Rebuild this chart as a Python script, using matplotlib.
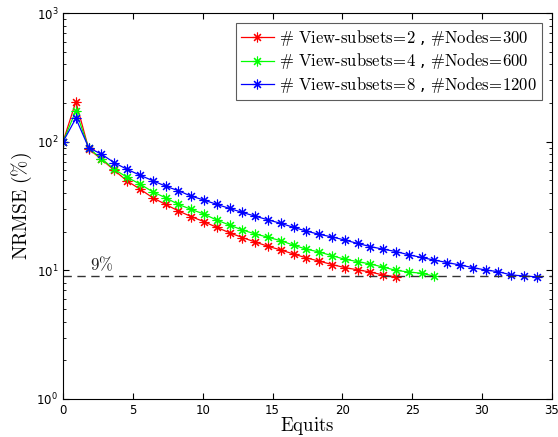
import matplotlib
matplotlib.use("Agg")
import matplotlib.pyplot as plt
import numpy as np

plt.rcParams['mathtext.fontset'] = 'cm'

# NRMSE (%) per iteration
red_vals = [100, 205, 88, 73, 60, 49.5, 42.9, 36.7, 32.6, 29.0, 26.2, 23.9, 21.6, 19.6,
            18.0, 16.6, 15.4, 14.4, 13.4, 12.5, 11.8, 11.1, 10.5, 10.1, 9.7, 9.2, 8.9]
green_vals = [100, 174, 89, 74, 61, 52.9, 46.9, 40.8, 36.7, 32.6, 29.8, 27.4, 24.6, 22.5,
              20.6, 19.2, 18.1, 17.0, 15.7, 14.6, 13.9, 13.0, 12.2, 11.7, 11.2, 10.6,
              10.0, 9.7, 9.5, 9.0]
blue_vals = [100, 152, 90, 80, 68.7, 61, 55, 49.8, 45.2, 41.6, 37.8, 35.2, 32.6, 30.3,
             28.2, 26.4, 24.7, 23.2, 21.6, 20.2, 19.05, 18.2, 17.2, 16.2, 15.3, 14.6,
             14.0, 13.2, 12.6, 12.0, 11.5, 11.0, 10.5, 10.06, 9.76, 9.2, 9.05, 8.9]
equit_step = 0.917   # spacing of iterations in equits
labels = [r'$\#$ $\mathrm{View\text{-}subsets\!=\!2}$ , $\#\mathrm{Nodes\!=\!300}$',
          r'$\#$ $\mathrm{View\text{-}subsets\!=\!4}$ , $\#\mathrm{Nodes\!=\!600}$',
          r'$\#$ $\mathrm{View\text{-}subsets\!=\!8}$ , $\#\mathrm{Nodes\!=\!1200}$']
colors = ['#ff0000', '#00ff00', '#0000ff']
threshold = 9

fig = plt.figure(figsize=(5.58, 4.37), dpi=100)
ax = fig.add_axes([0.113, 0.087, 0.876, 0.883])

for vals, lab, c in zip([red_vals, green_vals, blue_vals], labels, colors):
    x = np.arange(len(vals)) * equit_step
    ax.plot(x, vals, color=c, marker=(8, 2, 0), markersize=7, linewidth=0.9,
            markeredgewidth=0.8, label=lab)

ax.axhline(threshold, color='#333333', linestyle=(0, (6, 4)), linewidth=1.0)
ax.text(1.9, 9.3, r'$9\%$', fontsize=12, ha='left', va='bottom', color='#222222')

ax.set_yscale('log')
ax.set_xlim(0, 35)
ax.set_ylim(1, 1000)
ax.set_xticks([0, 5, 10, 15, 20, 25, 30, 35])
ax.tick_params(which='both', direction='in', top=True, right=True, labelsize=8.5)
ax.tick_params(which='major', length=4)
ax.tick_params(which='minor', length=2.5)
for s in ax.spines.values():
    s.set_linewidth(0.8)

ax.set_xlabel(r'$\mathrm{Equits}$', fontsize=13.5, labelpad=-1)
ax.set_ylabel(r'$\mathrm{NRMSE\ (\%)}$', fontsize=14, labelpad=2)

leg = ax.legend(loc='upper right', fontsize=12, frameon=True, fancybox=False,
                edgecolor='#333333', handlelength=2.0, borderpad=0.3,
                labelspacing=0.2, handletextpad=0.3, borderaxespad=0.6)
leg.get_frame().set_linewidth(0.8)

fig.savefig('out.png', dpi=100)
